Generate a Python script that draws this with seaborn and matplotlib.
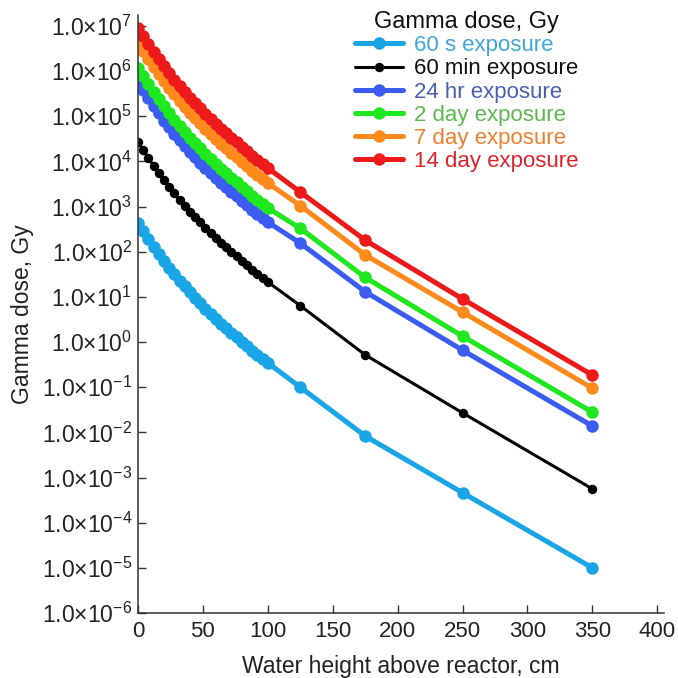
import matplotlib
matplotlib.use("Agg")
import matplotlib.pyplot as plt
import matplotlib.ticker as mticker
import numpy as np
import pandas as pd
import seaborn as sns

# Water height above the reactor core (cm)
height_cm = [0, 4, 8, 12, 16, 20, 24, 28, 32, 36, 40, 44, 48, 52, 56, 60,
             64, 68, 72, 76, 80, 84, 88, 92, 96, 100, 125, 175, 250, 350]

# Accumulated gamma dose (Gy) for each exposure time
dose_60s = [436, 288, 191, 129, 89, 61.5, 43.6, 31.6, 22.9, 17.0, 12.6, 9.5,
            7.2, 5.5, 4.26, 3.31, 2.57, 2.04, 1.62, 1.29, 1.02, 0.81, 0.645,
            0.523, 0.426, 0.346, 0.10, 0.0083, 4.6e-4, 1.0e-5]
dose_60min = [27000, 17800, 11800, 7970, 5510, 3810, 2700, 1950, 1420, 1050,
              778, 591, 448, 340, 264, 205, 159, 126, 100, 79.7, 63.2, 50.2,
              40.0, 32.4, 26.4, 21.4, 6.4, 0.52, 0.027, 5.6e-4]
dose_24hr = [570000, 377000, 249000, 168000, 116000, 80400, 57000, 41300,
             29900, 22200, 16400, 12500, 9460, 7180, 5570, 4330, 3360, 2670,
             2120, 1680, 1330, 1060, 844, 684, 557, 453, 155, 13, 0.66,
             0.0138]
dose_2day = [1170000, 773000, 511000, 345000, 239000, 165000, 117000, 84700,
             61400, 45500, 33700, 25600, 19400, 14700, 11400, 8880, 6890,
             5480, 4350, 3450, 2740, 2180, 1730, 1400, 1140, 929, 330, 27,
             1.35, 0.028]
dose_7day = [4200000, 2780000, 1840000, 1240000, 857000, 592000, 420000,
             304000, 221000, 163000, 121000, 92000, 69700, 52900, 41000,
             31900, 24700, 19700, 15600, 12400, 9830, 7810, 6220, 5040, 4100,
             3330, 1050, 85, 4.6, 0.095]
dose_14day = [9000000, 5950000, 3930000, 2660000, 1840000, 1270000, 900000,
              652000, 473000, 350000, 259000, 197000, 149000, 113000, 87900,
              68300, 53000, 42100, 33500, 26600, 21100, 16700, 13300, 10800,
              8790, 7150, 2100, 180, 9.0, 0.186]

series_labels = ["60 s exposure", "60 min exposure", "24 hr exposure",
                 "2 day exposure", "7 day exposure", "14 day exposure"]
series_values = [dose_60s, dose_60min, dose_24hr, dose_2day, dose_7day,
                 dose_14day]

line_colors = ["#1aa6e6", "#000000", "#3a5cf0", "#1fe81f", "#ff8a1c", "#ee1a1a"]
text_colors = ["#3ea6d9", "#111111", "#4a5fae", "#5cb84e", "#ee7f2e", "#e0222c"]
line_widths = [3.6, 2.2, 3.6, 3.6, 3.6, 3.6]
marker_sizes = [9.0, 6.8, 9.0, 9.0, 9.0, 9.0]

sns.set_theme(style="white")
plt.rcParams["font.family"] = ["Liberation Sans", "DejaVu Sans"]
plt.rcParams["mathtext.fontset"] = "custom"
plt.rcParams["mathtext.rm"] = "Liberation Sans"
plt.rcParams["mathtext.it"] = "Liberation Sans"
plt.rcParams["mathtext.default"] = "regular"

fig = plt.figure(figsize=(6.78, 6.78), dpi=100)
ax = fig.add_axes([0.2035, 0.0959, 0.7755, 0.882])

frames = []
for label, vals in zip(series_labels, series_values):
    frames.append(pd.DataFrame({"height": height_cm, "dose": vals,
                                "series": label}))
df = pd.concat(frames, ignore_index=True)

for label, color, lw, ms in zip(series_labels, line_colors, line_widths,
                                marker_sizes):
    sub = df[df["series"] == label]
    sns.lineplot(data=sub, x="height", y="dose", ax=ax, color=color,
                 linewidth=lw, marker="o", markersize=ms,
                 markeredgewidth=0, label=label, sort=False)

ax.set_yscale("log")
ax.set_xlim(0, 405)
ax.set_ylim(1e-6, 1.75e7)

ax.xaxis.set_major_locator(mticker.MultipleLocator(50))
ax.yaxis.set_major_locator(mticker.LogLocator(base=10, numticks=20))
ax.yaxis.set_minor_locator(mticker.NullLocator())


def sci_label(v, pos):
    e = int(round(np.log10(v)))
    return "1.0×10$^{%d}$" % e


ax.yaxis.set_major_formatter(mticker.FuncFormatter(sci_label))

for side in ["top", "right"]:
    ax.spines[side].set_visible(False)
for side in ["left", "bottom"]:
    ax.spines[side].set_color("#333333")
    ax.spines[side].set_linewidth(1.1)

ax.tick_params(axis="both", direction="in", length=6, width=1,
               color="#333333", labelcolor="#222222", left=True, bottom=True)
ax.tick_params(axis="y", pad=4, labelsize=16.5)
ax.tick_params(axis="x", pad=6, labelsize=16)

ax.set_xlabel("Water height above reactor, cm", fontsize=16.5,
              color="#222222", labelpad=9)
ax.set_ylabel("Gamma dose, Gy", fontsize=16.5, color="#222222")
ax.yaxis.set_label_coords(-0.197, 0.5)

leg = ax.legend(title="Gamma dose, Gy", loc="upper left",
                bbox_to_anchor=(0.5236, 0.984),
                bbox_transform=fig.transFigure, frameon=False, fontsize=16,
                title_fontsize=17, handlelength=2.15, handletextpad=0.5,
                labelspacing=0.1, borderpad=0, borderaxespad=0)
for txt, c in zip(leg.get_texts(), text_colors):
    txt.set_color(c)
leg.get_title().set_color("#111111")

fig.savefig("out.png", dpi=100)
